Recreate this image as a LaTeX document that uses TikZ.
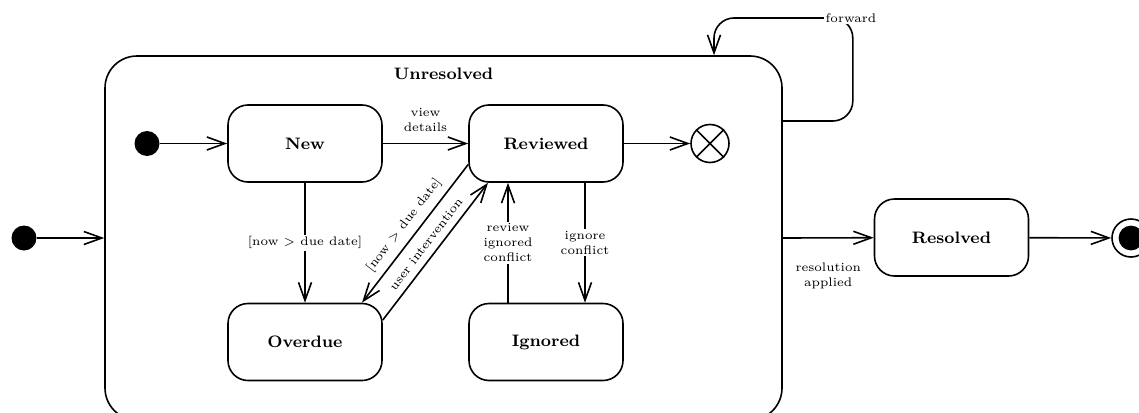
\documentclass[tikz,border=0pt]{standalone}
\usetikzlibrary{arrows.meta}
\begin{document}
\begin{tikzpicture}[x=0.5pt,y=-0.5pt,
  line width=0.8pt,
  statebox/.style={draw, rounded corners=10pt, minimum width=77pt, minimum height=38.5pt,
    inner sep=0pt, font=\fontsize{8.3}{10}\selectfont\bfseries},
  initdot/.style={circle, fill=black, minimum size=12.5pt, inner sep=0pt},
  lbl/.style={font=\fontsize{6.2}{7.4}\selectfont, align=center, inner sep=1pt},
  onwire/.style={lbl, fill=white},
  trans/.style={-{Straight Barb[length=9pt,width=6.5pt,line width=0.8pt]}}]
\useasboundingbox (0,0) rectangle (1139,412);

% composite state
\node[draw, rounded corners=16pt, minimum width=338.5pt, minimum height=182pt, inner sep=0pt]
  (unres) at (443.5,238) {};
\node[font=\fontsize{8.3}{10}\selectfont\bfseries] (unrestitle) at ([yshift=-9.5pt]unres.north) {Unresolved};

% pseudo states
\node[initdot] (init) at (24,238) {};
\node[initdot] (initin) at (147,143.5) {};
\node[circle, draw, minimum size=19pt, inner sep=0pt] (term) at (710,143.5) {};
\draw (term.north west) -- (term.south east) (term.north east) -- (term.south west);
\node[circle, draw, minimum size=19pt, inner sep=0pt] (final) at (1131,238) {};
\fill (final.center) circle (6.2pt);

% states
\node[statebox] (new) at (305,143.5) {New};
\node[statebox] (reviewed) at (546,143.5) {Reviewed};
\node[statebox] (overdue) at (305,342) {Overdue};
\node[statebox] (ignored) at (546,342) {Ignored};
\node[statebox] (resolved) at (951.5,237.5) {Resolved};

% transitions
\draw[trans] (init) -- (unres.west);
\draw[trans] (initin) -- (new);
\draw[trans] (new) -- node[lbl, above=4.5pt] {view\\details} (reviewed);
\draw[trans] (new) -- node[onwire] {[now $>$ due date]} (overdue);
\draw[trans] ([yshift=-10.5pt]reviewed.west) -- node[lbl, sloped, above=2.5pt] {[now $>$ due date]} ([xshift=28.5pt]overdue.north);
\draw[trans] ([yshift=11pt]overdue.east) -- node[lbl, sloped, above=2.5pt] {user intervention} ([xshift=-29pt]reviewed.south);
\draw[trans] ([xshift=-19pt]ignored.north) -- node[onwire] {review\\ignored\\conflict} ([xshift=-19pt]reviewed.south);
\draw[trans] ([xshift=19.5pt]reviewed.south) -- node[onwire] {ignore\\conflict} ([xshift=19.5pt]ignored.north);
\draw[trans] (reviewed) -- (term);
\draw[trans] (unres.east) -- node[lbl, below=11pt] {resolution\\applied} (resolved);
\draw[trans] (resolved) -- (final);
\draw[trans, rounded corners=10pt] ([yshift=58.5pt]unres.east) -- ++(70,0) -- ++(0,-103) -| ([xshift=135.25pt]unres.north);
\node[onwire] (fwd) at (851,18) {forward};
\end{tikzpicture}
\end{document}
